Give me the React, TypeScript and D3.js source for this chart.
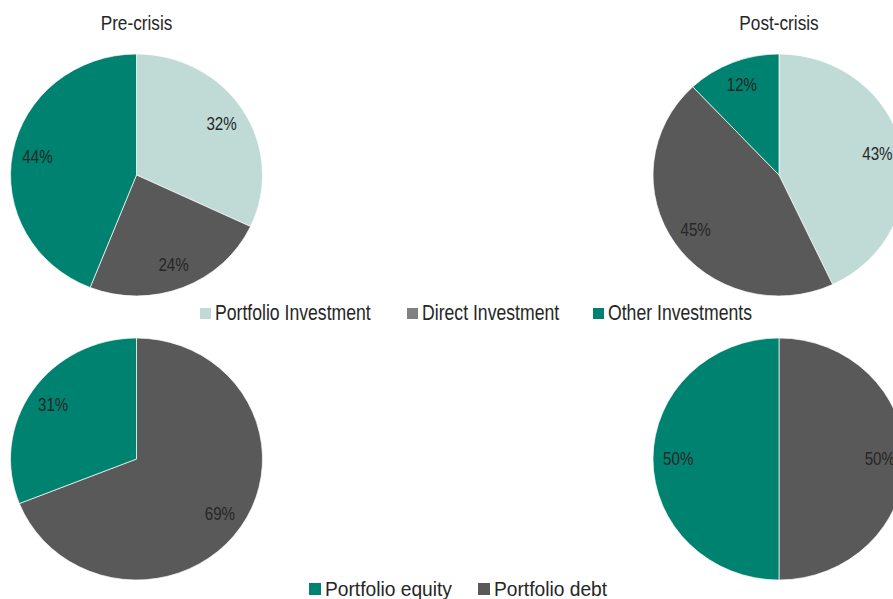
import React from 'react';
import * as d3 from 'd3';

// pie data
const topCategories = ['Portfolio Investment', 'Direct Investment', 'Other Investments'];
const preCrisisTop = [32, 24, 44];
const postCrisisTop = [43, 45, 12];

const bottomCategories = ['Portfolio debt', 'Portfolio equity'];
const preCrisisBottom = [69, 31];
const postCrisisBottom = [50, 50];

const bottomLegendOrder = ['Portfolio equity', 'Portfolio debt'];
const titles = ['Pre-crisis', 'Post-crisis'];

const sliceColor: Record<string, string> = {
  'Portfolio Investment': '#c0dbd6',
  'Direct Investment': '#595959',
  'Other Investments': '#008270',
  'Portfolio debt': '#595959',
  'Portfolio equity': '#008270',
};
const swatchColor: Record<string, string> = {
  ...sliceColor,
  'Direct Investment': '#808080',
};

const W = 893;
const H = 599;
const RX = 126;
const RY = 121;
const colX = [136.5, 779];
const rowY = [175, 459];
const FONT = '"Liberation Sans", Arial, sans-serif';
const TEXT = '#262626';
const NARROW = 0.82; // condensed look of the original font

const pieGen = d3.pie<number>().sort(null).value((d) => d);
const arcGen = d3.arc<d3.PieArcDatum<number>>().innerRadius(0).outerRadius(RY);

function Label({ x, y, size, anchor = 'start', dy, sx = NARROW, children }: any) {
  return (
    <text
      transform={`translate(${x},${y}) scale(${sx},1)`}
      dy={dy}
      textAnchor={anchor}
      fontSize={size}
      fill={TEXT}
      fontFamily={FONT}
    >
      {children}
    </text>
  );
}

function Pie({ cx, cy, values, cats }: { cx: number; cy: number; values: number[]; cats: string[] }) {
  const arcs = pieGen(values);
  return (
    <g>
      <g transform={`translate(${cx},${cy}) scale(${RX / RY},1)`}>
        {arcs.map((a, i) => (
          <path
            key={i}
            d={arcGen(a) || ''}
            fill={sliceColor[cats[i]]}
            stroke="#ffffff"
            strokeWidth={0.7}
            vectorEffect="non-scaling-stroke"
          />
        ))}
      </g>
      {arcs.map((a, i) => {
        const mid = (a.startAngle + a.endAngle) / 2;
        const x = cx + 0.8 * RX * Math.sin(mid);
        const y = cy - 0.8 * RY * Math.cos(mid);
        return (
          <Label key={i} x={x} y={y} dy="0.35em" anchor="middle" size={18.5}>
            {a.data}%
          </Label>
        );
      })}
    </g>
  );
}

function Legend({ items, xs, y, size, sx, box }: { items: string[]; xs: number[]; y: number; size: number; sx: number; box: number }) {
  return (
    <g>
      {items.map((c, i) => (
        <g key={c}>
          <rect x={xs[i]} y={y - box - 1} width={box} height={box} fill={swatchColor[c]} />
          <Label x={xs[i] + box + 4} y={y} size={size} sx={sx}>
            {c}
          </Label>
        </g>
      ))}
    </g>
  );
}

export default function App() {
  return (
    <svg width={W} height={H} style={{ position: 'absolute', left: 0, top: 0, background: '#fff' }}>
      {titles.map((t, i) => (
        <Label key={t} x={colX[i]} y={30} anchor="middle" size={21}>
          {t}
        </Label>
      ))}
      <Pie cx={colX[0]} cy={rowY[0]} values={preCrisisTop} cats={topCategories} />
      <Pie cx={colX[1]} cy={rowY[0]} values={postCrisisTop} cats={topCategories} />
      <Pie cx={colX[0]} cy={rowY[1]} values={preCrisisBottom} cats={bottomCategories} />
      <Pie cx={colX[1]} cy={rowY[1]} values={postCrisisBottom} cats={bottomCategories} />
      <Legend items={topCategories} xs={[200, 407, 593]} y={320} size={21.5} sx={NARROW} box={11} />
      <Legend items={bottomLegendOrder} xs={[309, 478]} y={596} size={20} sx={0.96} box={12} />
    </svg>
  );
}
